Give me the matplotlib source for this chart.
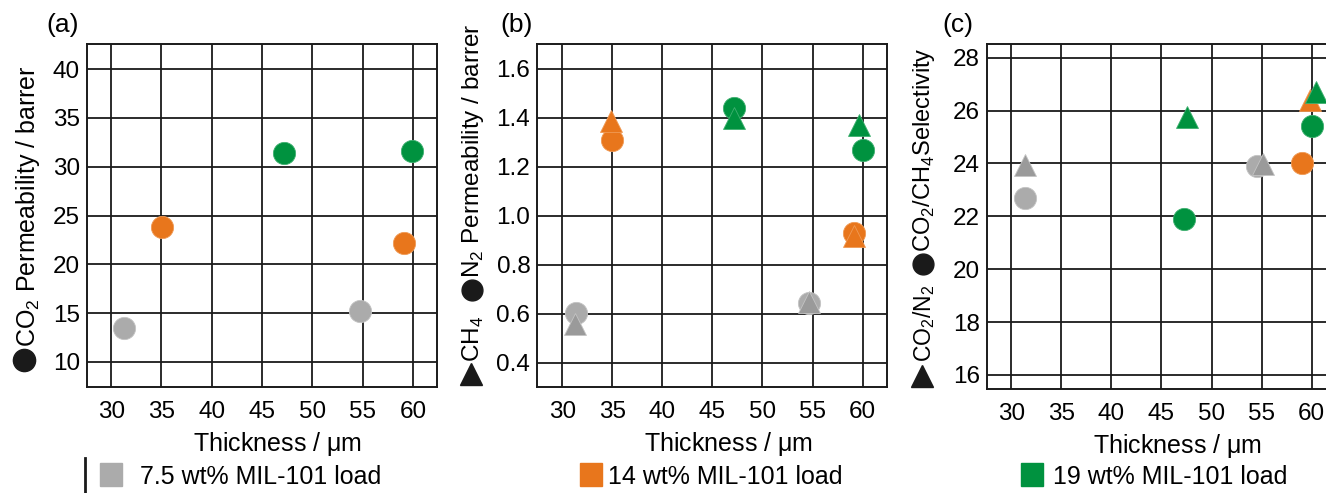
import matplotlib
matplotlib.use("Agg")
import matplotlib.pyplot as plt
from matplotlib.lines import Line2D
from matplotlib.patches import Rectangle

plt.rcParams['font.family'] = ['Liberation Sans', 'DejaVu Sans']
plt.rcParams['mathtext.fontset'] = 'custom'
plt.rcParams['mathtext.rm'] = 'Liberation Sans'

loads = ['7.5 wt% MIL-101 load', '14 wt% MIL-101 load', '19 wt% MIL-101 load']
circle_colors = ['#ababab', '#e8761c', '#00923f']
triangle_colors = ['#9a9a9a', '#e8761c', '#00923f']
edge_colors = ['#c4c4c4', '#f09a55', '#3fb070']

# (a) CO2 permeability
co2_x = [[31.3, 54.7], [35.1, 59.1], [47.2, 59.9]]
co2_perm = [[13.5, 15.2], [23.8, 22.2], [31.4, 31.6]]

# (b) N2 (circles) and CH4 (triangles) permeability
n2_x = [[31.4, 54.6], [35.0, 59.1], [47.2, 60.0]]
n2_perm = [[0.602, 0.643], [1.31, 0.929], [1.44, 1.266]]
ch4_x = [[31.3, 54.6], [34.85, 59.1], [47.2, 59.6]]
ch4_perm = [[0.558, 0.648], [1.384, 0.918], [1.396, 1.371]]

# (c) CO2/CH4 (circles) and CO2/N2 (triangles) selectivity
sel_ch4_x = [[31.4, 54.5], [59.05], [47.25, 60.0]]
sel_ch4 = [[22.7, 23.9], [24.0], [21.9, 25.4]]
sel_n2_x = [[31.4, 55.1], [59.8], [47.5, 60.4]]
sel_n2 = [[23.96, 23.99], [26.4], [25.76, 26.7]]

W, H = 1326, 493
fig = plt.figure(figsize=(W / 100, H / 100), dpi=100)


def px(x, y):
    return x / W, 1 - y / H


def make_axes(left, top, bottom, xlim, ylim, yticks, ylabels):
    ax = fig.add_axes([left / W, 1 - bottom / H, 350 / W, (bottom - top) / H])
    ax.set_xlim(*xlim)
    ax.set_ylim(*ylim)
    ax.set_xticks([30, 35, 40, 45, 50, 55, 60])
    ax.set_yticks(yticks)
    ax.set_yticklabels(ylabels)
    ax.grid(True, color='#1a1a1a', lw=1.3)
    ax.set_axisbelow(True)
    for s in ax.spines.values():
        s.set_linewidth(1.4)
        s.set_color('#1a1a1a')
    ax.tick_params(axis='x', length=0, pad=10, labelsize=17.5)
    ax.tick_params(axis='y', length=0, pad=5, labelsize=17.5)
    ax.set_xlabel('Thickness / $\\mathregular{\\mu}$m', fontsize=18)
    ax.xaxis.set_label_coords(0.545, -0.125)
    return ax


ax1 = make_axes(87, 44, 387, (27.6, 62.4), (7.44, 42.56),
                [10, 15, 20, 25, 30, 35, 40], ['10', '15', '20', '25', '30', '35', '40'])
ax2 = make_axes(537.3, 44, 387, (27.5, 62.47), (0.30, 1.70),
                [0.4, 0.6, 0.8, 1.0, 1.2, 1.4, 1.6], ['0.4', '0.6', '0.8', '1.0', '1.2', '1.4', '1.6'])
ax3 = make_axes(986.7, 44, 389, (27.54, 62.5), (15.47, 28.52),
                [16, 18, 20, 22, 24, 26, 28], ['16', '18', '20', '22', '24', '26', '28'])

for i in range(3):
    ax1.plot(co2_x[i], co2_perm[i], 'o', ms=16, color=circle_colors[i],
             mec=edge_colors[i], mew=0.6, zorder=3)
    ax2.plot(n2_x[i], n2_perm[i], 'o', ms=16, color=circle_colors[i],
             mec=edge_colors[i], mew=0.6, zorder=3)
    ax3.plot(sel_ch4_x[i], sel_ch4[i], 'o', ms=16, color=circle_colors[i],
             mec=edge_colors[i], mew=0.6, zorder=3)
for i in range(3):
    ax2.plot(ch4_x[i], ch4_perm[i], '^', ms=16, color=triangle_colors[i],
             mec=edge_colors[i], mew=0.6, zorder=4)
    ax3.plot(sel_n2_x[i], sel_n2[i], '^', ms=16, color=triangle_colors[i],
             mec=edge_colors[i], mew=0.6, zorder=4)

# panel letters
for x, s in [(46, '(a)'), (500, '(b)'), (942, '(c)')]:
    fig.text(*px(x, 25), s, fontsize=19, ha='left', va='center')


# y-axis labels: rotated words, upright symbols
def ylab(x, ybottom, s, size=17.5):
    fig.text(*px(x, ybottom), s, rotation=90, fontsize=size, ha='center', va='bottom')


def sym(x, y, marker, size):
    fig.add_artist(Line2D([x / W], [1 - y / H], marker=marker, ms=size, color='#1a1a1a',
                          transform=fig.transFigure))


sym(24, 360, 'o', 16)
ylab(28, 347, 'CO$_\\mathregular{2}$ Permeability / barrer', 18)

sym(471, 374, '^', 16)
ylab(473, 362, 'CH$_\\mathregular{4}$')
sym(472, 290, 'o', 15)
ylab(473, 278, 'N$_\\mathregular{2}$ Permeability / barrer')

sym(922, 376, '^', 16)
ylab(924, 362, 'CO$_\\mathregular{2}$/N$_\\mathregular{2}$', 16.5)
sym(923, 264, 'o', 15)
ylab(924, 252, 'CO$_\\mathregular{2}$/CH$_\\mathregular{4}$Selectivity', 17)

# legend row
fig.add_artist(Line2D([85 / W, 85 / W], [1 - 458 / H, 0], color='#1a1a1a', lw=2,
                      transform=fig.transFigure))
legend_sq = [100, 580, 1021]
legend_tx = [140, 608, 1053]
for i in range(3):
    fig.add_artist(Rectangle(px(legend_sq[i], 486), 22 / W, 23 / H, color=circle_colors[i],
                             transform=fig.transFigure))
    fig.text(*px(legend_tx[i], 477), loads[i], fontsize=18, ha='left', va='center')

fig.savefig('out.png', dpi=100)
